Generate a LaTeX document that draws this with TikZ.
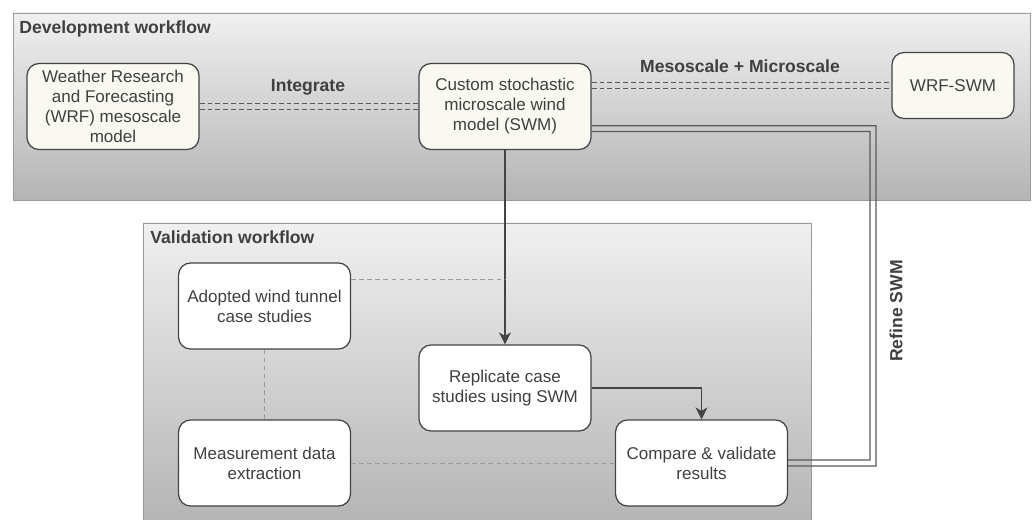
\documentclass[tikz,border=0pt]{standalone}
\usepackage{fontspec}
\setmainfont{Liberation Sans}
\usetikzlibrary{arrows.meta,calc}

\definecolor{panetop}{HTML}{F0F0F0}
\definecolor{panebot}{HTML}{B4B4B6}
\definecolor{paneline}{HTML}{9A9A9A}
\definecolor{boxline}{HTML}{444444}
\definecolor{devfill}{HTML}{F9F8F1}
\definecolor{inktext}{HTML}{404040}
\definecolor{linkgray}{HTML}{5A5A5A}
\definecolor{faintdash}{HTML}{9A9A9A}

\tikzset{
  pane/.style={draw=paneline, line width=0.55pt, top color=panetop, bottom color=panebot},
  devbox/.style={draw=boxline, line width=0.7pt, fill=devfill, rounded corners=0.24cm,
                 minimum width=3.44cm, minimum height=1.72cm, align=center, text=inktext, inner sep=0pt},
  valbox/.style={devbox, fill=white},
  panetitle/.style={anchor=west, font=\bfseries, text=inktext, inner sep=0pt},
  linklabel/.style={font=\bfseries, text=inktext, inner sep=0pt},
  twin/.style={draw=linkgray, line width=0.7pt},
  twindash/.style={twin, dash pattern=on 2.8pt off 1.7pt},
  flow/.style={draw=boxline, line width=0.75pt, -{Stealth[length=2.4mm,width=2.4mm,inset=0.7mm]}},
  faint/.style={draw=faintdash, line width=0.55pt, dash pattern=on 2.6pt off 2pt},
}

\begin{document}
\begin{tikzpicture}[x=0.02cm, y=-0.02cm, font=\fontsize{9.7}{11.4}\selectfont]
    \useasboundingbox (0,0) rectangle (1032,520);
    \clip (0,0) rectangle (1032,520);

    % workflow panes
    \path[pane] (13,13) rectangle (1030,200);
    \path[pane] (143,223) rectangle (811,526);
    \node[panetitle] (devtitle) at (19,29) {Development workflow};
    \node[panetitle] (valtitle) at (150,237) {Validation workflow};

    % development boxes
    \node[devbox] (wrf) at (113,106.5) {Weather Research\\and Forecasting\\(WRF) mesoscale\\model};
    \node[devbox] (swm) at (505,106.5) {Custom stochastic\\microscale wind\\model (SWM)};
    \node[devbox, minimum width=2.44cm, minimum height=1.32cm] (wrfswm) at (953,85.5) {WRF-SWM};

    % validation boxes
    \node[valbox] (adopted)   at (264.5,306) {Adopted wind tunnel\\case studies};
    \node[valbox] (measure)   at (264.5,463) {Measurement data\\extraction};
    \node[valbox] (replicate) at (505,388)   {Replicate case\\studies using SWM};
    \node[valbox] (compare)   at (701.5,463) {Compare \& validate\\results};

    % link labels
    \node[linklabel] (integrate) at (308,87) {Integrate};
    \node[linklabel] (mesomicro) at (740,66) {Mesoscale + Microscale};
    \node[linklabel, rotate=90] (refine) at (896,311) {Refine SWM};

    % double dashed links
    \draw[twindash] ([yshift=0.055cm]wrf.east) -- ([yshift=0.055cm]swm.west);
    \draw[twindash] ([yshift=-0.055cm]wrf.east) -- ([yshift=-0.055cm]swm.west);
    \coordinate (mesoin) at (swm.east |- wrfswm.west);
    \draw[twindash] ([yshift=0.055cm]mesoin) -- ([yshift=0.055cm]wrfswm.west);
    \draw[twindash] ([yshift=-0.055cm]mesoin) -- ([yshift=-0.055cm]wrfswm.west);

    % refine loop (double line)
    \coordinate (refcorner) at (873,128.7);
    \coordinate (refstart) at (swm.east |- refcorner);
    \coordinate (refend) at (refcorner |- compare.east);
    \draw[twin] ([yshift=0.058cm]refstart) -- ([shift={(2.9,-2.9)}]refcorner)
        -- ([shift={(2.9,2.9)}]refend) -- ([yshift=-0.058cm]compare.east);
    \draw[twin] ([yshift=-0.058cm]refstart) -- ([shift={(-2.9,2.9)}]refcorner)
        -- ([shift={(-2.9,-2.9)}]refend) -- ([yshift=0.058cm]compare.east);

    % flow arrows
    \draw[flow] (swm.south) -- (replicate.north);
    \draw[flow] (replicate.east) -| (compare.north);

    % faint dashed relations
    \coordinate (adtap) at ($(adopted.north east)!0.2!(adopted.south east)$);
    \draw[faint] (adtap) -- (adtap -| swm.south);
    \draw[faint] (adopted) -- (measure);
    \draw[faint] (measure) -- (compare);
\end{tikzpicture}
\end{document}
